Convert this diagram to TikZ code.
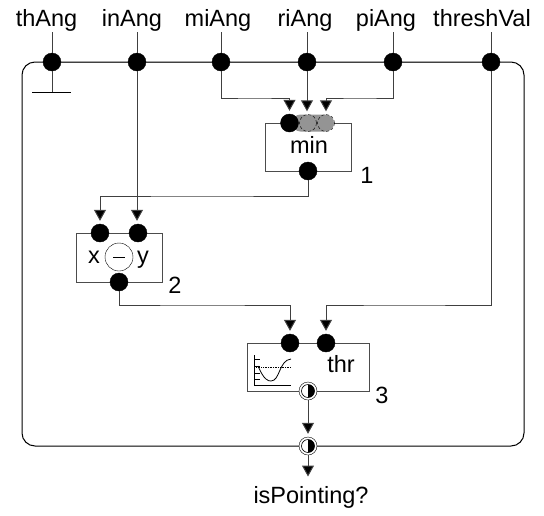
\documentclass[tikz,border=0pt]{standalone}
\usepackage{fontspec}
\setmainfont{Liberation Sans}
\usetikzlibrary{arrows.meta}
\tikzset{
    port/.style={circle,fill=black,draw=black,inner sep=0pt,minimum size=18pt},
    halfport/.style={circle,draw=black,fill=white,inner sep=0pt,minimum size=18pt},
    ghostport/.style={circle,draw=black,densely dashed,inner sep=0pt,minimum size=17pt},
    modbox/.style={draw=black!70,line width=1pt,fill=white,inner sep=0pt},
    lbl/.style={inner sep=0pt,anchor=base,font=\fontsize{23.5}{26}\selectfont},
    wire/.style={draw=black!75,line width=1pt},
    arrowwire/.style={wire,shorten >=3pt,-{Triangle[length=11pt,width=12pt,fill=black]}}
}
\newcommand{\halffill}[1]{
    \draw[line width=0.6pt] (#1) circle (6.5pt);
    \fill[black] (#1) ++(0,-6.5pt) arc (90:270:-6.5pt) -- cycle;
}
\begin{document}
\begin{tikzpicture}[x=1pt,y=-1pt]
    \useasboundingbox (0,0) rectangle (544,515);

    %frame
    \draw[line width=1pt,rounded corners=13pt] (22,62) rectangle (524,446);

    %boxes
    \node[modbox,minimum width=86pt,minimum height=48pt] (minBox) at (308,147) {};
    \node[modbox,minimum width=86pt,minimum height=49pt] (subBox) at (119,257.5) {};
    \node[modbox,minimum width=122pt,minimum height=48pt] (thrBox) at (308,367) {};

    %top ports
    \node[port] (thAngPort) at (52,62) {};
    \node[port] (inAngPort) at (137,62) {};
    \node[port] (miAngPort) at (221,62) {};
    \node[port] (riAngPort) at (307,62) {};
    \node[port] (piAngPort) at (393,62) {};
    \node[port] (threshPort) at (491,62) {};

    %labels on top
    \node[lbl] (thAng) at (46.5,26) {thAng};
    \node[lbl] (inAng) at (132,26) {inAng};
    \node[lbl] (miAng) at (218,26) {miAng};
    \node[lbl] (riAng) at (305,26) {riAng};
    \node[lbl] (piAng) at (386,26) {piAng};
    \node[lbl] (threshVal) at (482,26) {threshVal};

    %stubs
    \draw[wire] (thAngPort |- 0,32) -- (thAngPort);
    \draw[wire] (inAngPort |- 0,32) -- (inAngPort);
    \draw[wire] (miAngPort |- 0,32) -- (miAngPort);
    \draw[wire] (riAngPort |- 0,32) -- (riAngPort);
    \draw[wire] (piAngPort |- 0,32) -- (piAngPort);
    \draw[wire] (threshPort |- 0,32) -- (threshPort);

    %ground
    \coordinate (gnd) at (52,92);
    \draw[wire] (thAngPort) -- (gnd);
    \draw[line width=1pt] (32,92) -- (71,92);

    %min ports
    \fill[black!42,rounded corners=8.5pt] (292,114.5) rectangle (334,131.5);
    \node[ghostport] (minC) at (326,123) {};
    \node[ghostport] (minB) at (308,123) {};
    \node[port] (minA) at (289.5,123) {};
    \node[port] (minOut) at (308,171) {};
    \node[lbl] (minLbl) at (309,153) {min};
    \node[lbl] (minNum) at (367,183) {1};

    %sub ports
    \node[port] (subA) at (100,233) {};
    \node[port] (subB) at (138,233) {};
    \node[port] (subOut) at (119,282) {};
    \node[circle,draw=black,fill=white,inner sep=0pt,minimum size=28pt] (subOp) at (119,257) {};
    \draw[line width=1pt] (113,257) -- (125,257);
    \node[lbl] (subX) at (94,263) {x};
    \node[lbl] (subY) at (143,263) {y};
    \node[lbl] (subNum) at (175,293) {2};

    %thr ports
    \node[port] (thrA) at (290,343) {};
    \node[port] (thrB) at (326,343) {};
    \node[halfport] (thrOut) at (308,391) {};
    \halffill{thrOut}
    \node[lbl] (thrLbl) at (341,372) {thr};
    \node[lbl] (thrNum) at (382,403) {3};

    %icon
    \draw[line width=0.8pt] (254,355) -- (254,385) -- (291,385);
    \draw[line width=0.7pt] (254,359) -- (260,359) (254,366) -- (260,366) (254,373) -- (260,373) (254,379) -- (260,379);
    \draw[line width=0.7pt,densely dotted] (256,367) -- (291,367);
    \draw[line width=0.8pt] (258,366) .. controls (264,380) and (268,381) .. (271,381) .. controls (280,381) and (279,360) .. (291,359);

    %out
    \node[halfport] (frameOut) at (308,446) {};
    \halffill{frameOut}
    \node[lbl] (isPointing) at (311,503) {isPointing?};
    \coordinate (outEnd) at (308,479.5);

    %connectors
    \draw[wire] (thAngPort) -- (inAngPort);
    \draw[wire] (inAngPort) -- (miAngPort);
    \draw[wire] (miAngPort) -- (riAngPort);
    \draw[wire] (riAngPort) -- (piAngPort);
    \draw[wire] (piAngPort) -- (threshPort);
    \draw[arrowwire] (miAngPort) |- (254,98) -| (minA.north);
    \draw[arrowwire] (riAngPort) -- (riAngPort |- minB.north);
    \draw[arrowwire] (piAngPort) |- (360,98) -| (minC.north);
    \draw[arrowwire] (minOut) |- (200,196) -| (subA.north);
    \draw[arrowwire] (inAngPort) -- (inAngPort |- subB.north);
    \draw[arrowwire] (subOut) |- (200,305) -| (thrA.north);
    \draw[arrowwire] (threshPort) |- (400,305) -| (thrB.north);
    \draw[arrowwire] (thrOut) -- (frameOut.north);
    \draw[arrowwire] (frameOut) -- (outEnd);
\end{tikzpicture}
\end{document}
